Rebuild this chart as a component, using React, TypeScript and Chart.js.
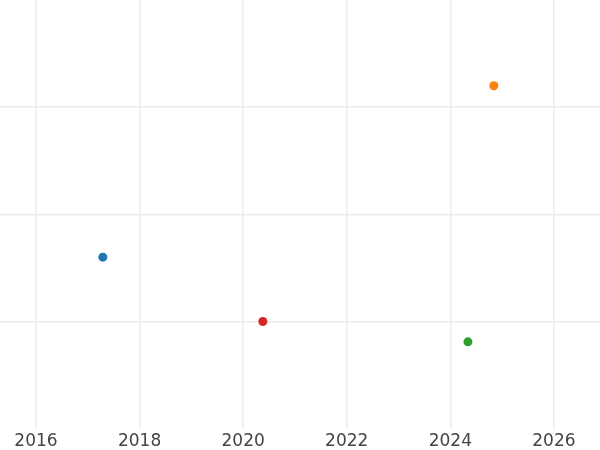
import React, { useEffect, useRef } from "react";
import { Chart, registerables } from "chart.js";

Chart.register(...registerables);

const pointNames = ["A", "B", "C", "D"];
const xValues = [2017.29, 2024.84, 2024.34, 2020.38];
const yValues = [1.6, 3.2, 0.81, 1.0];
const pointColors = ["#1f77b4", "#ff7f0e", "#2ca02c", "#d62728"];
const xTicks = [2016, 2018, 2020, 2022, 2024, 2026];
const yTicks = [1, 2, 3];
const xMin = 2015.305;
const xMax = 2026.89;
const yMin = 0;
const yMax = 4;

export default function App() {
  const ref = useRef<HTMLCanvasElement>(null);
  useEffect(() => {
    document.body.style.margin = "0";
    const ctx = ref.current!;
    const chart = new Chart(ctx, {
      type: "scatter",
      data: {
        datasets: pointNames.map((n, i) => ({
          label: n,
          data: [{ x: xValues[i], y: yValues[i] }],
          backgroundColor: pointColors[i],
          borderColor: pointColors[i],
          pointRadius: 4.5,
          borderWidth: 0,
        })),
      },
      options: {
        animation: false,
        responsive: false,
        layout: { padding: { top: 0, left: 0, right: 0, bottom: -5 }, autoPadding: false },
        plugins: { legend: { display: false }, tooltip: { enabled: false } },
        scales: {
          x: {
            type: "linear",
            min: xMin,
            max: xMax,
            afterBuildTicks: (axis: any) => {
              axis.ticks = xTicks.map((v) => ({ value: v }));
            },
            grid: { color: "#ebebeb", lineWidth: 1.5, drawTicks: false },
            border: { display: false },
            ticks: {
              callback: (v: any) => String(v),
              color: "#444444",
              font: { family: "DejaVu Sans", size: 17 },
              padding: 3,
              maxRotation: 0,
              autoSkip: false,
            },
          },
          y: {
            type: "linear",
            min: yMin,
            max: yMax,
            afterBuildTicks: (axis: any) => {
              axis.ticks = yTicks.map((v) => ({ value: v }));
            },
            grid: { color: "#ebebeb", lineWidth: 1.5, drawTicks: false },
            border: { display: false },
            ticks: { display: false },
          },
        },
      },
    });
    return () => chart.destroy();
  }, []);
  return <canvas ref={ref} width={600} height={450} style={{ display: "block" }} />;
}
